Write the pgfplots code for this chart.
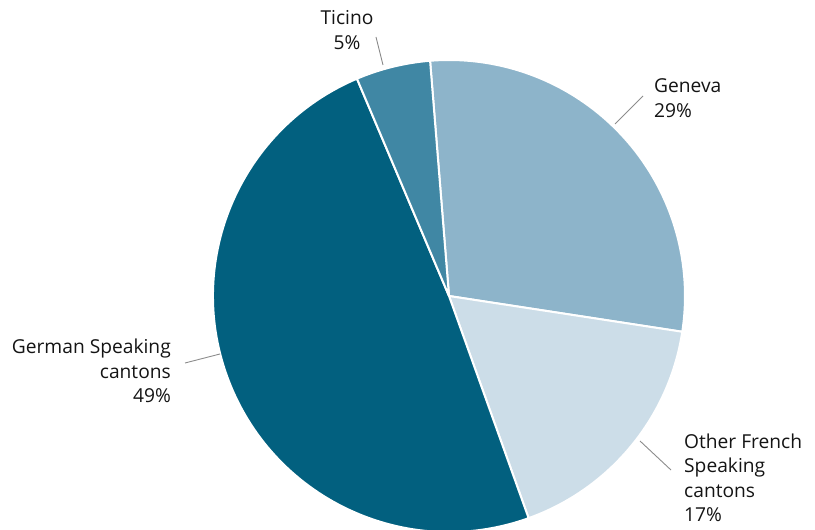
\documentclass[border=0pt]{standalone}
\usepackage{pgfplots}
\pgfplotsset{compat=1.18}
\usepackage{pgfplotstable}
\usepackage{fontspec}
\setmainfont{Open Sans}
\definecolor{cGen}{HTML}{8DB4CA}
\definecolor{cOth}{HTML}{CCDDE8}
\definecolor{cGer}{HTML}{02607F}
\definecolor{cTic}{HTML}{4087A4}
\definecolor{cLead}{HTML}{8C8C8C}
\definecolor{cText}{HTML}{141414}
\pgfplotstableread{
label value color
Geneva 28.7 cGen
Other 17.1 cOth
German 49.1 cGer
Ticino 5.1 cTic
}\piedata
\begin{document}
\begin{tikzpicture}
\begin{axis}[
  width=815pt, height=530pt, scale only axis,
  xmin=0, xmax=815, ymin=0, ymax=530,
  hide axis,
]
\addplot[draw=none] coordinates {(0,0) (815,530)};
\pgfplotsextra{
  \gdef\curang{94.6}
  \pgfplotstableforeachcolumnelement{value}\of\piedata\as\val{
    \pgfmathsetmacro\endang{\curang-3.6*\val}
    \pgfplotstablegetelem{\pgfplotstablerow}{color}\of\piedata
    \edef\col{\pgfplotsretval}
    \fill[\col, draw=white, line width=2pt, line join=round] (axis cs:449,234) -- ++(\curang:236pt) arc[start angle=\curang, end angle=\endang, radius=236pt] -- cycle;
    \global\let\curang\endang
  }
}
\draw[cLead, line width=0.9pt] (axis cs:185,167) -- (axis cs:220,176);
\draw[cLead, line width=0.9pt] (axis cs:376,493) -- (axis cs:383,465);
\draw[cLead, line width=0.9pt] (axis cs:643,434) -- (axis cs:615,406);
\draw[cLead, line width=0.9pt] (axis cs:640,89) -- (axis cs:671,60);
\begin{scope}[every node/.style={font=\fontsize{19.2}{24.5}\selectfont, text=cText, inner sep=0pt}]
\node[align=right, anchor=east] at (axis cs:171,159) {German Speaking\\cantons\\49\%};
\node[align=center, anchor=center] at (axis cs:347,500) {Ticino\\5\%};
\node[align=left, anchor=west] at (axis cs:654,432) {Geneva\\29\%};
\node[align=left, anchor=west] at (axis cs:684,52) {Other French\\Speaking\\cantons\\17\%};
\end{scope}
\end{axis}
\end{tikzpicture}
\end{document}
